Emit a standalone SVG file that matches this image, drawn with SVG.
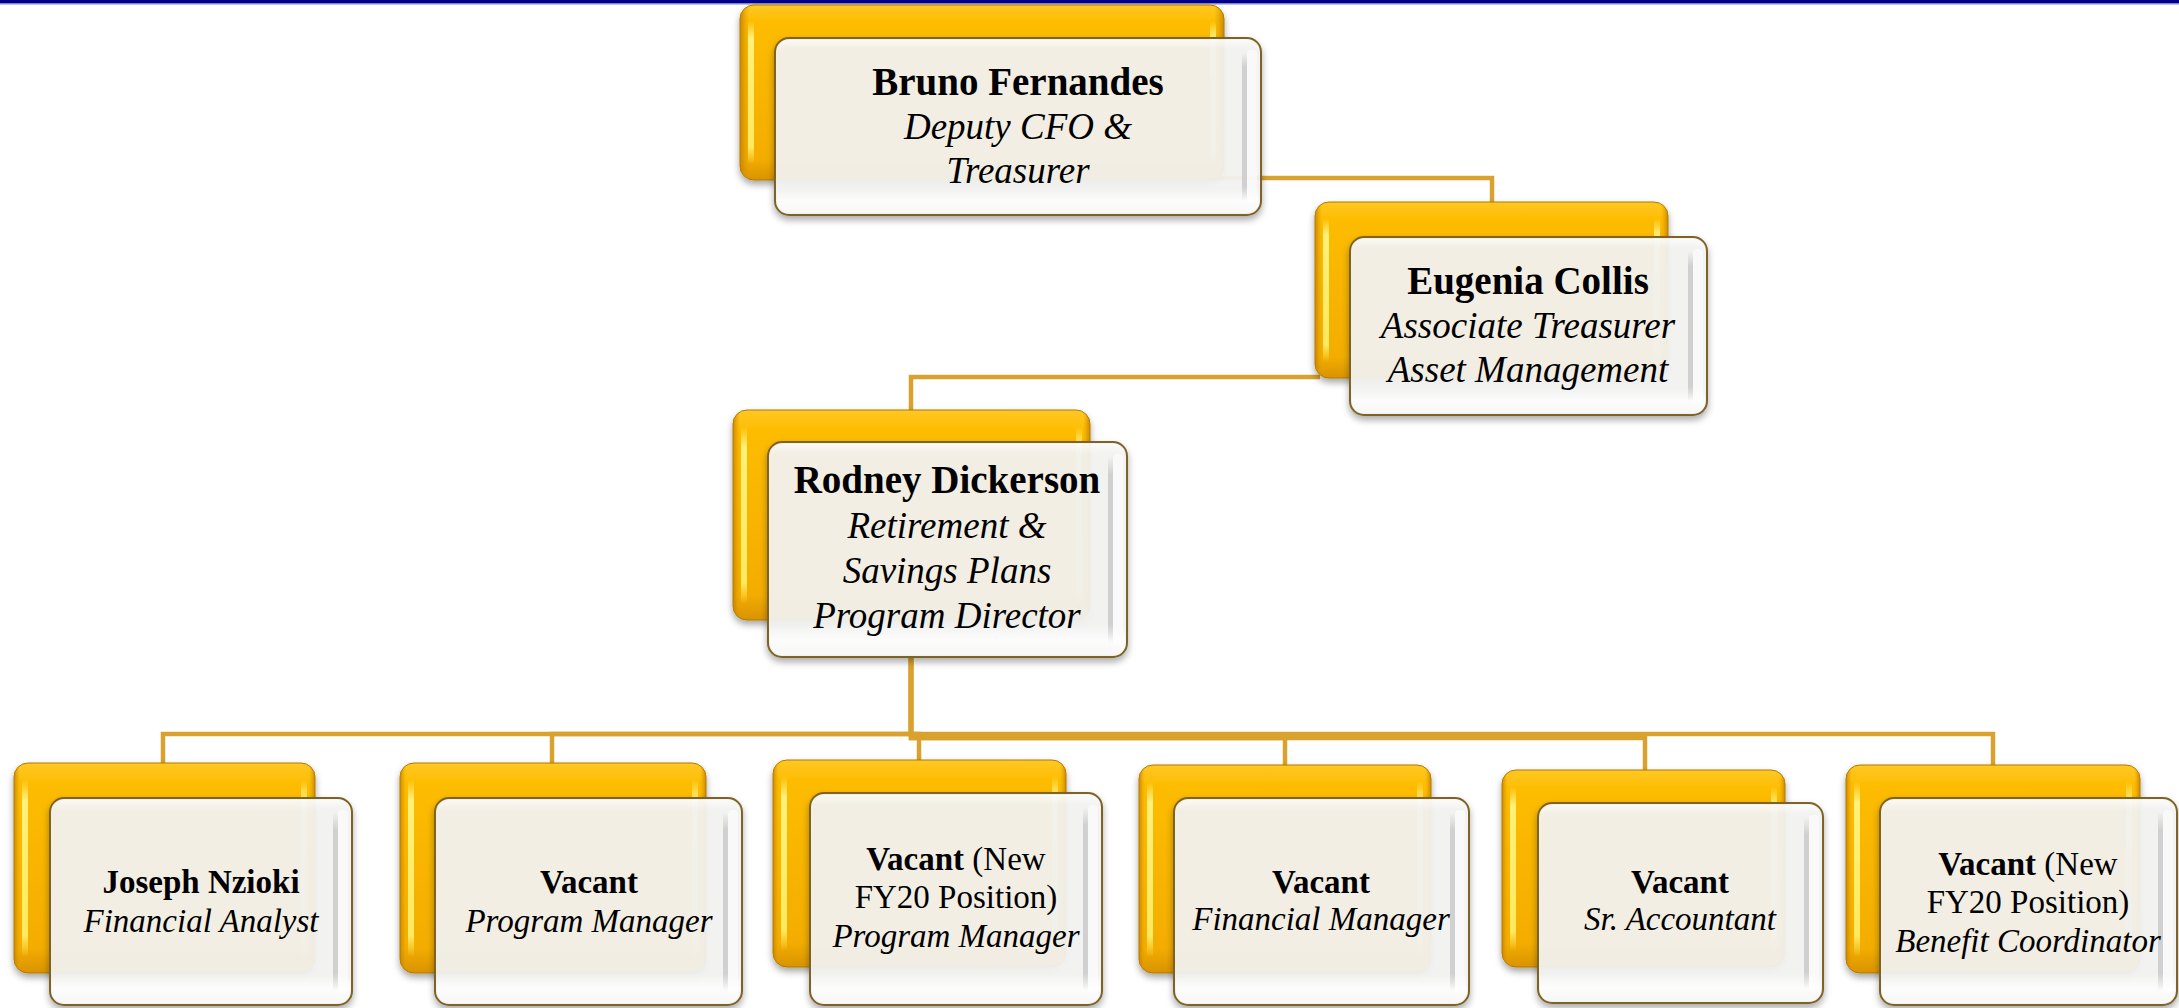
<svg xmlns="http://www.w3.org/2000/svg" width="2179" height="1008" viewBox="0 0 2179 1008">
<defs>
<linearGradient id="gold" x1="0" y1="0" x2="0" y2="1">
<stop offset="0" stop-color="#FFC824"/><stop offset="0.1" stop-color="#FDBC00"/><stop offset="0.88" stop-color="#F3AD00"/><stop offset="1" stop-color="#D99300"/>
</linearGradient>
<linearGradient id="goldEdge" x1="0" y1="0" x2="1" y2="0">
<stop offset="0" stop-color="#C07F00" stop-opacity="0.85"/><stop offset="0.02" stop-color="#E09C00" stop-opacity="0"/><stop offset="0.98" stop-color="#E09C00" stop-opacity="0"/><stop offset="1" stop-color="#C07F00" stop-opacity="0.85"/>
</linearGradient>
<linearGradient id="stripe" x1="0" y1="0" x2="0" y2="1">
<stop offset="0" stop-color="#FFF480" stop-opacity="0"/><stop offset="0.12" stop-color="#FFF480" stop-opacity="0.95"/><stop offset="0.88" stop-color="#FFF06A" stop-opacity="0.9"/><stop offset="1" stop-color="#FFF06A" stop-opacity="0"/>
</linearGradient>
<linearGradient id="band" x1="0" y1="0" x2="0" y2="1">
<stop offset="0" stop-color="#C8C8C8" stop-opacity="0"/><stop offset="0.1" stop-color="#C8C8C8" stop-opacity="0.8"/><stop offset="0.9" stop-color="#C8C8C8" stop-opacity="0.8"/><stop offset="1" stop-color="#C8C8C8" stop-opacity="0"/>
</linearGradient>
<linearGradient id="bevV" x1="0" y1="0" x2="0" y2="1">
<stop offset="0" stop-color="#FFFFFF" stop-opacity="0.6"/><stop offset="0.05" stop-color="#FFFFFF" stop-opacity="0"/><stop offset="0.86" stop-color="#FFFFFF" stop-opacity="0"/><stop offset="0.93" stop-color="#FFFFFF" stop-opacity="0.8"/><stop offset="1" stop-color="#FFFFFF" stop-opacity="0.4"/>
</linearGradient>
<filter id="sh" x="-10%" y="-10%" width="120%" height="130%">
<feDropShadow dx="0" dy="4" stdDeviation="3.5" flood-color="#000000" flood-opacity="0.35"/>
</filter>
</defs>
<style>
.back{fill:url(#gold);stroke:#B07800;stroke-width:1;filter:url(#sh)}
.be{fill:url(#goldEdge)}
.st{fill:url(#stripe)}
.front{fill:#F4F4F3;fill-opacity:0.92;stroke:#7E6426;stroke-width:2;filter:url(#sh)}
.bd{fill:url(#band)}
.wr{fill:#FFFFFF;fill-opacity:0.55}
.bv{fill:url(#bevV)}
text{font-family:"Liberation Serif","Times New Roman",serif;fill:#000;text-anchor:middle}
.L{font-size:37px}
.S{font-size:33px}
.nm{font-weight:bold}
.L .nm{font-size:39px}
.it{font-style:italic}
</style>
<rect x="0" y="0" width="2179" height="3" fill="#00008B"/>
<rect x="0" y="3" width="2179" height="1.5" fill="#8088CC"/>
<g id="connectors" fill="none" stroke="#D9A22E" stroke-width="4.5">
<path d="M1200 178 H1492 V202"/>
<path d="M1320 377 H911 V410"/>
<path d="M911 657 V734 H163 V763"/>
<path d="M911 657 V734 H552 V763"/>
<path d="M911 657 V734 H919 V760"/>
<path d="M911 657 V738 H1285 V765"/>
<path d="M911 657 V738 H1645 V770"/>
<path d="M911 657 V734 H1993 V765"/>
</g>
<g id="n-bruno">
<rect class="back" x="740" y="5" width="484" height="175" rx="14"/>
<rect class="be" x="740" y="5" width="484" height="175" rx="14"/>
<rect class="st" x="748" y="21" width="6" height="143" rx="3"/>
<rect class="st" x="1210" y="21" width="6" height="143" rx="3"/>
<rect class="front" x="775" y="38" width="486" height="177" rx="14"/>
<rect class="bv" x="777" y="40" width="482" height="173" rx="12"/>
<rect class="wr" x="1247" y="50" width="10" height="153" rx="4"/>
<rect class="bd" x="1242" y="52" width="5" height="149" rx="2.5"/>
<text class="L"><tspan class="nm" x="1018" y="95">Bruno Fernandes</tspan><tspan class="it" x="1018" y="139">Deputy CFO &amp;</tspan><tspan class="it" x="1018" y="183">Treasurer</tspan></text>
</g>
<g id="n-eugenia">
<rect class="back" x="1315" y="202" width="353" height="176" rx="14"/>
<rect class="be" x="1315" y="202" width="353" height="176" rx="14"/>
<rect class="st" x="1323" y="218" width="6" height="144" rx="3"/>
<rect class="st" x="1654" y="218" width="6" height="144" rx="3"/>
<rect class="front" x="1350" y="237" width="357" height="178" rx="14"/>
<rect class="bv" x="1352" y="239" width="353" height="174" rx="12"/>
<rect class="wr" x="1693" y="249" width="10" height="154" rx="4"/>
<rect class="bd" x="1688" y="251" width="5" height="150" rx="2.5"/>
<text class="L"><tspan class="nm" x="1528" y="294">Eugenia Collis</tspan><tspan class="it" x="1528" y="338">Associate Treasurer</tspan><tspan class="it" x="1528" y="382">Asset Management</tspan></text>
</g>
<g id="n-rodney">
<rect class="back" x="733" y="410" width="357" height="210" rx="14"/>
<rect class="be" x="733" y="410" width="357" height="210" rx="14"/>
<rect class="st" x="741" y="426" width="6" height="178" rx="3"/>
<rect class="st" x="1076" y="426" width="6" height="178" rx="3"/>
<rect class="front" x="768" y="442" width="359" height="215" rx="14"/>
<rect class="bv" x="770" y="444" width="355" height="211" rx="12"/>
<rect class="wr" x="1113" y="454" width="10" height="191" rx="4"/>
<rect class="bd" x="1108" y="456" width="5" height="187" rx="2.5"/>
<text class="L"><tspan class="nm" x="947" y="493">Rodney Dickerson</tspan><tspan class="it" x="947" y="538">Retirement &amp;</tspan><tspan class="it" x="947" y="583">Savings Plans</tspan><tspan class="it" x="947" y="628">Program Director</tspan></text>
</g>
<g id="n-joseph">
<rect class="back" x="14" y="763" width="301" height="210" rx="14"/>
<rect class="be" x="14" y="763" width="301" height="210" rx="14"/>
<rect class="st" x="22" y="779" width="6" height="178" rx="3"/>
<rect class="st" x="301" y="779" width="6" height="178" rx="3"/>
<rect class="front" x="50" y="798" width="302" height="207" rx="14"/>
<rect class="bv" x="52" y="800" width="298" height="203" rx="12"/>
<rect class="wr" x="338" y="810" width="10" height="183" rx="4"/>
<rect class="bd" x="333" y="812" width="5" height="179" rx="2.5"/>
<text class="S"><tspan class="nm" x="201" y="893">Joseph Nzioki</tspan><tspan class="it" x="201" y="932">Financial Analyst</tspan></text>
</g>
<g id="n-vacant-pm">
<rect class="back" x="400" y="763" width="306" height="210" rx="14"/>
<rect class="be" x="400" y="763" width="306" height="210" rx="14"/>
<rect class="st" x="408" y="779" width="6" height="178" rx="3"/>
<rect class="st" x="692" y="779" width="6" height="178" rx="3"/>
<rect class="front" x="435" y="798" width="307" height="207" rx="14"/>
<rect class="bv" x="437" y="800" width="303" height="203" rx="12"/>
<rect class="wr" x="728" y="810" width="10" height="183" rx="4"/>
<rect class="bd" x="723" y="812" width="5" height="179" rx="2.5"/>
<text class="S"><tspan class="nm" x="589" y="893">Vacant</tspan><tspan class="it" x="589" y="932">Program Manager</tspan></text>
</g>
<g id="n-vacant-new-pm">
<rect class="back" x="773" y="760" width="293" height="207" rx="14"/>
<rect class="be" x="773" y="760" width="293" height="207" rx="14"/>
<rect class="st" x="781" y="776" width="6" height="175" rx="3"/>
<rect class="st" x="1052" y="776" width="6" height="175" rx="3"/>
<rect class="front" x="810" y="793" width="292" height="212" rx="14"/>
<rect class="bv" x="812" y="795" width="288" height="208" rx="12"/>
<rect class="wr" x="1088" y="805" width="10" height="188" rx="4"/>
<rect class="bd" x="1083" y="807" width="5" height="184" rx="2.5"/>
<text class="S"><tspan x="956" y="870"><tspan class="nm">Vacant</tspan> (New</tspan><tspan x="956" y="908">FY20 Position)</tspan><tspan class="it" x="956" y="947">Program Manager</tspan></text>
</g>
<g id="n-vacant-fm">
<rect class="back" x="1139" y="765" width="292" height="208" rx="14"/>
<rect class="be" x="1139" y="765" width="292" height="208" rx="14"/>
<rect class="st" x="1147" y="781" width="6" height="176" rx="3"/>
<rect class="st" x="1417" y="781" width="6" height="176" rx="3"/>
<rect class="front" x="1174" y="798" width="295" height="207" rx="14"/>
<rect class="bv" x="1176" y="800" width="291" height="203" rx="12"/>
<rect class="wr" x="1455" y="810" width="10" height="183" rx="4"/>
<rect class="bd" x="1450" y="812" width="5" height="179" rx="2.5"/>
<text class="S"><tspan class="nm" x="1321" y="893">Vacant</tspan><tspan class="it" x="1321" y="930">Financial Manager</tspan></text>
</g>
<g id="n-vacant-sa">
<rect class="back" x="1502" y="770" width="283" height="197" rx="14"/>
<rect class="be" x="1502" y="770" width="283" height="197" rx="14"/>
<rect class="st" x="1510" y="786" width="6" height="165" rx="3"/>
<rect class="st" x="1771" y="786" width="6" height="165" rx="3"/>
<rect class="front" x="1538" y="803" width="285" height="200" rx="14"/>
<rect class="bv" x="1540" y="805" width="281" height="196" rx="12"/>
<rect class="wr" x="1809" y="815" width="10" height="176" rx="4"/>
<rect class="bd" x="1804" y="817" width="5" height="172" rx="2.5"/>
<text class="S"><tspan class="nm" x="1680" y="893">Vacant</tspan><tspan class="it" x="1680" y="930">Sr. Accountant</tspan></text>
</g>
<g id="n-vacant-bc">
<rect class="back" x="1846" y="765" width="294" height="208" rx="14"/>
<rect class="be" x="1846" y="765" width="294" height="208" rx="14"/>
<rect class="st" x="1854" y="781" width="6" height="176" rx="3"/>
<rect class="st" x="2126" y="781" width="6" height="176" rx="3"/>
<rect class="front" x="1880" y="798" width="297" height="207" rx="14"/>
<rect class="bv" x="1882" y="800" width="293" height="203" rx="12"/>
<rect class="wr" x="2163" y="810" width="10" height="183" rx="4"/>
<rect class="bd" x="2158" y="812" width="5" height="179" rx="2.5"/>
<text class="S"><tspan x="2028" y="875"><tspan class="nm">Vacant</tspan> (New</tspan><tspan x="2028" y="913">FY20 Position)</tspan><tspan class="it" x="2028" y="952">Benefit Coordinator</tspan></text>
</g>
</svg>
